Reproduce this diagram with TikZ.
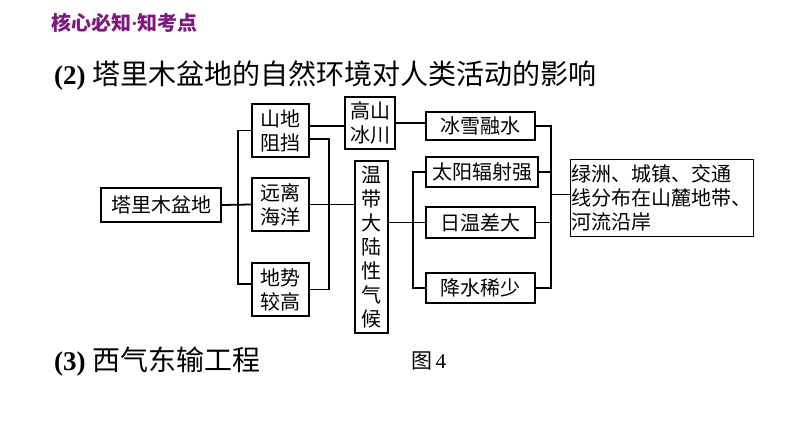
\documentclass[tikz,border=0pt]{standalone}
\usepackage{fontspec}
\setmainfont{Liberation Serif}
\newfontfamily\cjk{Noto Sans CJK SC}
\definecolor{titlepurple}{RGB}{125,25,125}
\begin{document}
\begin{tikzpicture}[x=1pt,y=-1pt,
  box/.style={draw=black,line width=1.1pt,inner sep=0pt,align=center,
    font=\cjk\fontsize{20}{24}\selectfont},
  conn/.style={draw=black,line width=1.8pt},
  lbl/.style={inner sep=0pt,anchor=west}]
\useasboundingbox (0,0) rectangle (794,447);
% headings
\node[lbl,text=titlepurple,font=\cjk\bfseries\fontsize{20}{22}\selectfont] (head1) at (51,23) {核心必知{\rmfamily\bfseries ·}知考点};
\node[lbl,font=\fontsize{27}{30}\selectfont] (head2) at (54,76) {\textbf{(2)} {\cjk\fontsize{28}{30}\selectfont 塔里木盆地的自然环境对人类活动的影响}};
\node[lbl,font=\fontsize{27}{30}\selectfont] (head3) at (54,362) {\textbf{(3)} {\cjk\fontsize{28}{30}\selectfont 西气东输工程}};
\node[lbl,font=\fontsize{21}{24}\selectfont] (fig) at (411,361) {{\cjk 图}\,4};
% boxes
\node[box,minimum width=120,minimum height=34] (tarim) at (161,205) {塔里木盆地};
\node[box,minimum width=57,minimum height=53] (shan) at (280.5,130.5) {山地\\阻挡};
\node[box,minimum width=57,minimum height=53] (yuan) at (280.5,204.5) {远离\\海洋};
\node[box,minimum width=57,minimum height=53] (dishi) at (280.5,289.5) {地势\\较高};
\node[box,minimum width=50,minimum height=52] (gaoshan) at (370,123) {高山\\冰川};
\node[box,minimum width=33,minimum height=172] (wendai) at (371.5,247) {温\\带\\大\\陆\\性\\气\\候};
\node[box,minimum width=109,minimum height=28] (bingxue) at (480.5,126) {冰雪融水};
\node[box,minimum width=112,minimum height=30] (taiyang) at (482,172) {太阳辐射强};
\node[box,minimum width=109,minimum height=31] (riwen) at (480.5,222.5) {日温差大};
\node[box,minimum width=109,minimum height=30] (jiangshui) at (480.5,288) {降水稀少};
\node[box,align=left,text width=181,inner xsep=1pt,minimum height=77,anchor=north west] (final) at (570,159) {绿洲、城镇、交通\\线分布在山麓地带、\\河流沿岸};
% bracket coordinates
\coordinate (b1) at (238,205);
\coordinate (b2) at (329,200);
\coordinate (b3) at (413,222);
\coordinate (b4) at (551,200);
% connectors
\draw[conn] (tarim.east) -- (yuan.west);
\draw[conn] (shan.west) -| (b1) |- ([yshift=5.5]dishi.west);
\draw[conn] ([yshift=4.5]shan.east) -- ([yshift=4.5]shan.east -| gaoshan.west);
\draw[conn] ([yshift=-8.5]shan.east) -| (b2) |- (dishi.east);
\draw[conn] (yuan.east) -- (yuan.east -| wendai.west);
\draw[conn] (gaoshan.east) -- (gaoshan.east -| bingxue.west);
\draw[conn] (riwen.west -| wendai.east) -- (riwen.west);
\draw[conn] (taiyang.west) -| (b3) |- (jiangshui.west);
\draw[conn] (bingxue.east) -| (b4) |- (jiangshui.east);
\draw[conn] (taiyang.east) -- (taiyang.east -| b4);
\draw[conn] (riwen.east) -- (riwen.east -| b4);
\draw[conn] ([yshift=3.5]final.west -| b4) -- ([yshift=3.5]final.west);
\end{tikzpicture}
\end{document}
